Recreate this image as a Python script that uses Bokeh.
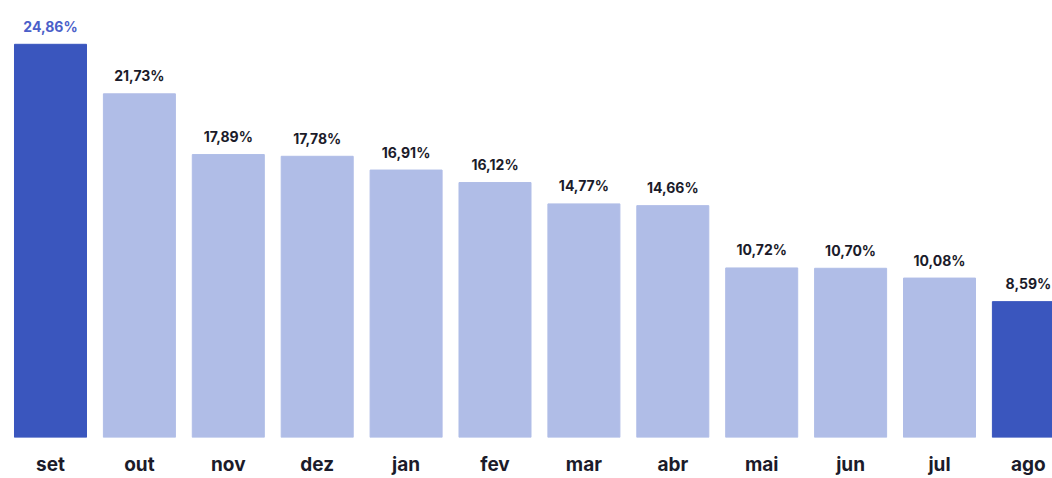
from bokeh.plotting import figure
from bokeh.models import ColumnDataSource, FixedTicker, Range1d
from bokeh.core.properties import value
from bokeh.embed import file_html
from bokeh.resources import INLINE

months = ["set", "out", "nov", "dez", "jan", "fev", "mar", "abr", "mai", "jun", "jul", "ago"]
values = [24.86, 21.73, 17.89, 17.78, 16.91, 16.12, 14.77, 14.66, 10.72, 10.70, 10.08, 8.59]
labels = ["24,86%", "21,73%", "17,89%", "17,78%", "16,91%", "16,12%", "14,77%", "14,66%",
          "10,72%", "10,70%", "10,08%", "8,59%"]
highlight = [True, False, False, False, False, False, False, False, False, False, False, True]

DARK = "#3a56be"
LIGHT = "#b0bde7"
xs = list(range(len(months)))
colors = [DARK if h else LIGHT for h in highlight]
label_colors = ["#4b5fc9"] + ["#1b1b2a"] * (len(months) - 1)

src = ColumnDataSource(dict(x=xs, top=values, color=colors, label=labels, lcolor=label_colors))

p = figure(width=1052, height=478, output_backend="svg", toolbar_location=None,
           x_range=Range1d(-0.5624, 11.271), y_range=Range1d(0, 27.63),
           min_border_left=0, min_border_right=0, min_border_top=0, min_border_bottom=39)

p.vbar(x="x", top="top", bottom=0, width=0.81, color="color", source=src)
p.text(x="x", y="top", text="label", text_color="lcolor", source=src,
       text_align="center", text_baseline="alphabetic", y_offset=-18,
       text_font=value("Inter"), text_font_size="14px", text_font_style="bold")

p.yaxis.visible = False
p.xgrid.visible = False
p.ygrid.visible = False
p.outline_line_color = None

ax = p.xaxis[0]
ax.ticker = FixedTicker(ticks=xs)
ax.major_label_overrides = {i: m for i, m in zip(xs, months)}
ax.axis_line_color = None
ax.major_tick_line_color = None
ax.minor_tick_line_color = None
ax.major_tick_out = 0
ax.major_tick_in = 0
ax.major_label_standoff = 15
ax.major_label_text_font = "Inter"
ax.major_label_text_font_size = "19px"
ax.major_label_text_font_style = "bold"
ax.major_label_text_line_height = 1.0
ax.major_label_text_color = "#1b1b2a"

open("out.html", "w").write(file_html(p, INLINE))
